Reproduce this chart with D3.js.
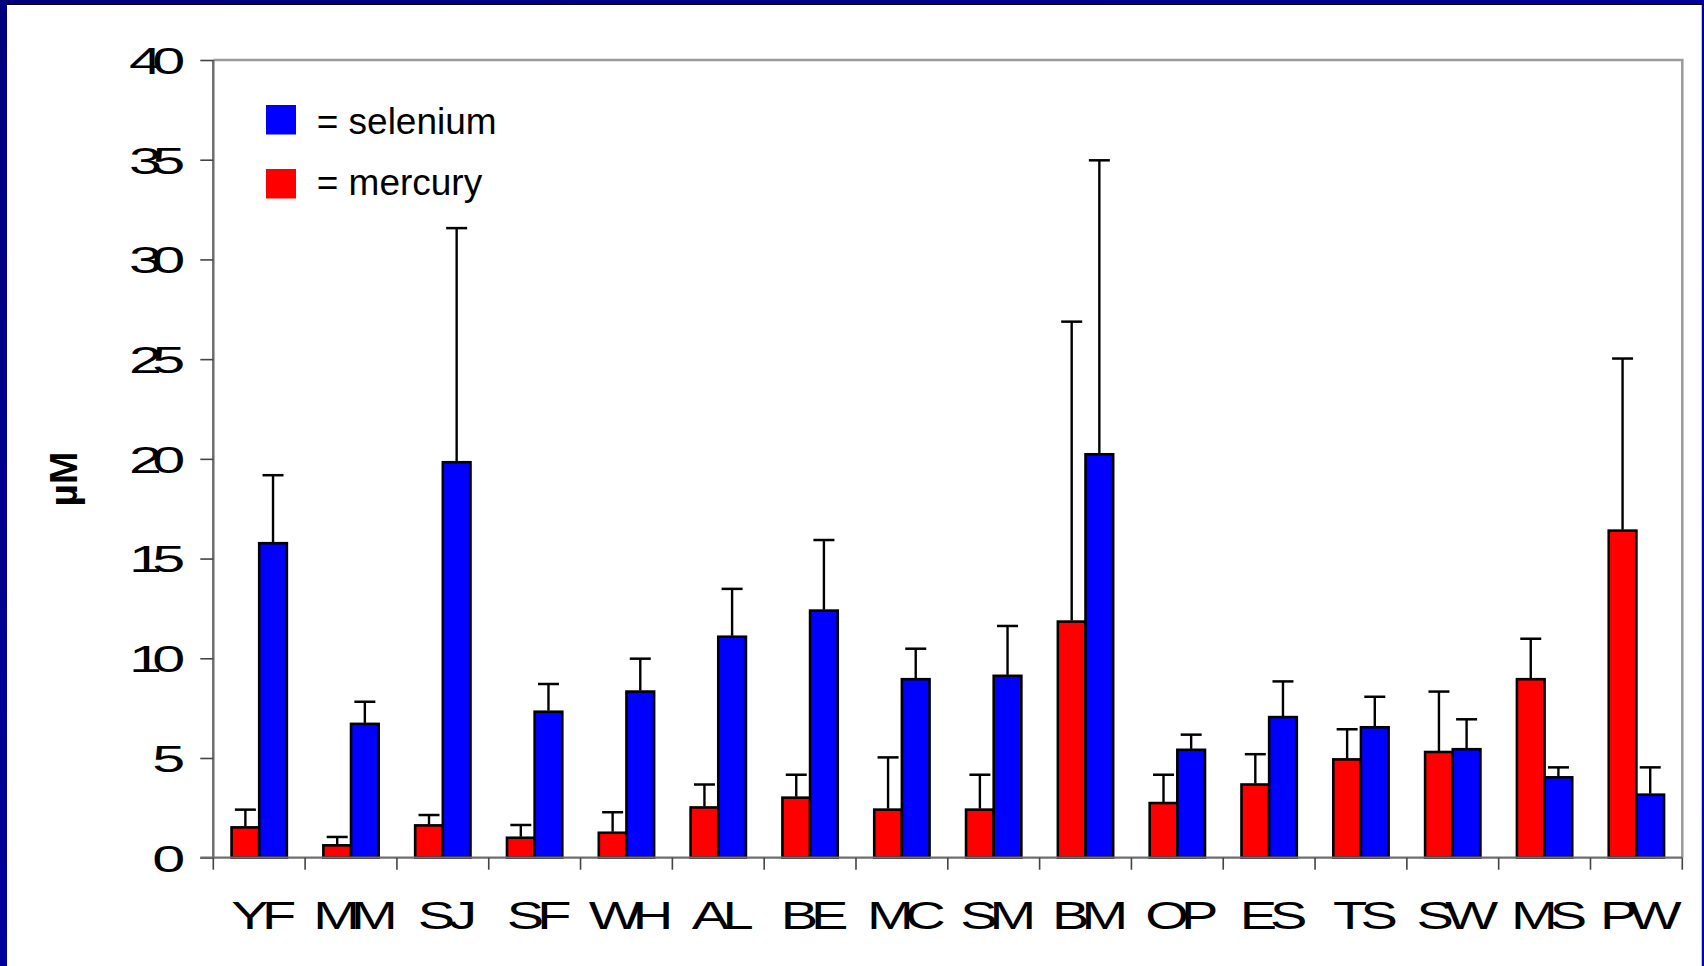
<!DOCTYPE html>
<html>
<head>
<meta charset="utf-8">
<script src="https://cdn.jsdelivr.net/npm/d3@7"></script>
<style>
  html, body { margin: 0; padding: 0; background: #fff; }
  svg { display: block; }
  text { font-family: "Liberation Sans", Arial, Helvetica, sans-serif; }
</style>
</head>
<body>
<svg id="chart" width="1704" height="966"></svg>
<script>
// Sampling sites along the x axis
const categories = ["YF","MM","SJ","SF","WH","AL","BE","MC","SM","BM","OP","ES","TS","SW","MS","PW"];

// Mean concentrations (µM) and upper error (SD) for each site
const mercury    = [1.52, 0.62, 1.62, 1.00, 1.25, 2.52, 3.01, 2.41, 2.41, 11.84, 2.74, 3.67, 4.93, 5.30, 8.95, 16.40];
const mercuryErr = [0.89, 0.42, 0.52, 0.64, 1.03, 1.15, 1.15, 2.62, 1.75, 15.04, 1.42, 1.52, 1.51, 3.03, 2.03, 8.63];
const selenium    = [15.77, 6.71, 19.83, 7.32, 8.33, 11.08, 12.39, 8.95, 9.12, 20.23, 5.41, 7.05, 6.54, 5.44, 4.03, 3.16];
const seleniumErr = [3.41, 1.11, 11.74, 1.39, 1.65, 2.40, 3.54, 1.53, 2.50, 14.74, 0.76, 1.79, 1.53, 1.50, 0.50, 1.37];

// Y axis ticks
const yTicks = [0, 5, 10, 15, 20, 25, 30, 35, 40];
const yLabel = "µM";

// Series, in drawing order within each group
const seriesKeys = ["mercury", "selenium"];
const seriesColor = { mercury: "#ff0000", selenium: "#0000ff" };
const legendItems = [
  { key: "selenium", label: "= selenium" },
  { key: "mercury",  label: "= mercury" }
];

const rows = categories.map((c, i) => ({
  cat: c,
  mercury: { v: mercury[i], e: mercuryErr[i] },
  selenium: { v: selenium[i], e: seleniumErr[i] }
}));

const svg = d3.select("#chart");
const W = 1704, H = 966;

// Slide frame: navy band top and left, white panel
const defs = svg.append("defs");
const grad = defs.append("linearGradient").attr("id", "navy")
  .attr("x1", "0").attr("y1", "0").attr("x2", "1").attr("y2", "1");
grad.append("stop").attr("offset", "0").attr("stop-color", "#00007e");
grad.append("stop").attr("offset", "1").attr("stop-color", "#0000b8");
svg.append("rect").attr("width", W).attr("height", H).attr("fill", "url(#navy)");
svg.append("rect").attr("x", 7).attr("y", 4).attr("width", W - 9).attr("height", H - 4).attr("fill", "#ffffff");
svg.append("line").attr("x1", 7).attr("x2", W).attr("y1", 4.5).attr("y2", 4.5)
  .attr("stroke", "#000").attr("stroke-width", 1.2);
svg.append("line").attr("x1", 1701.5).attr("x2", 1701.5).attr("y1", 5).attr("y2", H)
  .attr("stroke", "#c8c8c8").attr("stroke-width", 1);

// Plot area
const plotL = 213.3, plotR = 1682.3, plotT = 60, plotB = 857.7;

const x = d3.scaleBand().domain(categories).range([plotL, plotR]).padding(0);
const xs = d3.scaleBand().domain(seriesKeys).range([0, x.bandwidth()])
  .paddingInner(0).paddingOuter(0.66);
const y = d3.scaleLinear().domain([0, 40]).range([plotB, plotT]);

// Plot-area border (top and right)
svg.append("path")
  .attr("d", `M${plotL},${plotT}H${plotR}V${plotB}`)
  .attr("fill", "none").attr("stroke", "#9a9a9a").attr("stroke-width", 2.5);

// Bars
const g = svg.append("g");
const groups = g.selectAll("g.grp").data(rows).join("g")
  .attr("class", "grp")
  .attr("transform", d => `translate(${x(d.cat)},0)`);

groups.selectAll("rect").data(d => seriesKeys.map(k => ({ k, v: d[k].v, e: d[k].e })))
  .join("rect")
  .attr("x", d => xs(d.k))
  .attr("width", xs.bandwidth())
  .attr("y", d => y(d.v))
  .attr("height", d => y(0) - y(d.v))
  .attr("fill", d => seriesColor[d.k])
  .attr("stroke", "#000").attr("stroke-width", 2.6);

// Upper error bars
const capW = 21;
const eb = groups.selectAll("g.err").data(d => seriesKeys.map(k => ({ k, v: d[k].v, e: d[k].e })))
  .join("g").attr("class", "err")
  .attr("transform", d => `translate(${xs(d.k) + xs.bandwidth() / 2},0)`);
eb.append("line")
  .attr("x1", 0).attr("x2", 0)
  .attr("y1", d => y(d.v) - 1).attr("y2", d => y(d.v + d.e))
  .attr("stroke", "#000").attr("stroke-width", 2.4);
eb.append("line")
  .attr("x1", -capW / 2).attr("x2", capW / 2)
  .attr("y1", d => y(d.v + d.e)).attr("y2", d => y(d.v + d.e))
  .attr("stroke", "#000").attr("stroke-width", 2.5);

// Widened text: glyphs stretched by k, glyph centres spread by a (a < k),
// so wide letters run into each other.
function wideText(parent, str, size, k, a, anchor) {
  const tmp = parent.append("text").attr("text-anchor", "start")
    .style("font-size", size + "px").text(str);
  const node = tmp.node();
  const advs = Array.from(str).map((c, i) => node.getSubStringLength(i, 1));
  tmp.remove();
  const f = a / k - 1;
  const dx = advs.map((w, i) => (i ? f * (advs[i - 1] + w) / 2 : 0));
  return parent.append("text")
    .attr("text-anchor", anchor)
    .attr("transform", `scale(${k},1)`)
    .attr("dx", dx.join(" "))
    .style("font-size", size + "px")
    .attr("fill", "#000")
    .text(str);
}

// Y axis
const yAxis = svg.append("g")
  .attr("transform", `translate(${plotL},0)`)
  .call(d3.axisLeft(y).tickValues(yTicks).tickSize(13).tickFormat(() => ""));
yAxis.select(".domain").attr("stroke", "#6e6e6e").attr("stroke-width", 2.5)
  .attr("d", `M0,${plotT}V${plotB}`);
yAxis.selectAll(".tick line").attr("stroke", "#444").attr("stroke-width", 1.6);
yAxis.selectAll(".tick text").remove();
yAxis.selectAll(".tick").each(function (d) {
  const t = d3.select(this).append("g").attr("transform", "translate(-28,13.4)");
  wideText(t, String(d), 37.5, 1.58, 1.12, "end");
});

// X axis: baseline with ticks at the category boundaries
const xAxis = svg.append("g");
xAxis.append("line")
  .attr("x1", plotL - 13).attr("x2", plotR)
  .attr("y1", plotB).attr("y2", plotB)
  .attr("stroke", "#6e6e6e").attr("stroke-width", 2.2);
const bounds = categories.map(c => x(c)).concat([plotR]);
xAxis.selectAll("line.xt").data(bounds).join("line").attr("class", "xt")
  .attr("x1", d => d).attr("x2", d => d)
  .attr("y1", plotB).attr("y2", plotB + 12)
  .attr("stroke", "#444").attr("stroke-width", 1.6);
categories.forEach(c => {
  const t = xAxis.append("g").attr("transform", `translate(${x(c) + x.bandwidth() / 2 + 4.5},929)`);
  wideText(t, c, 39.5, 1.42, 1.15, "middle");
});

// Y axis title
svg.append("text")
  .attr("transform", "translate(77,479) rotate(-90)")
  .attr("text-anchor", "middle")
  .style("font-size", "39px").style("font-weight", "bold")
  .text(yLabel);

// Legend
const lg = svg.append("g").attr("transform", "translate(266,105)");
legendItems.forEach((it, i) => {
  lg.append("rect").attr("x", 0).attr("y", i * 64).attr("width", 30).attr("height", 29.5)
    .attr("fill", seriesColor[it.key]);
  lg.append("text").attr("x", 50.7).attr("y", 29 + i * 61)
    .style("font-size", "37px").attr("fill", "#000").text(it.label);
});
</script>
</body>
</html>
